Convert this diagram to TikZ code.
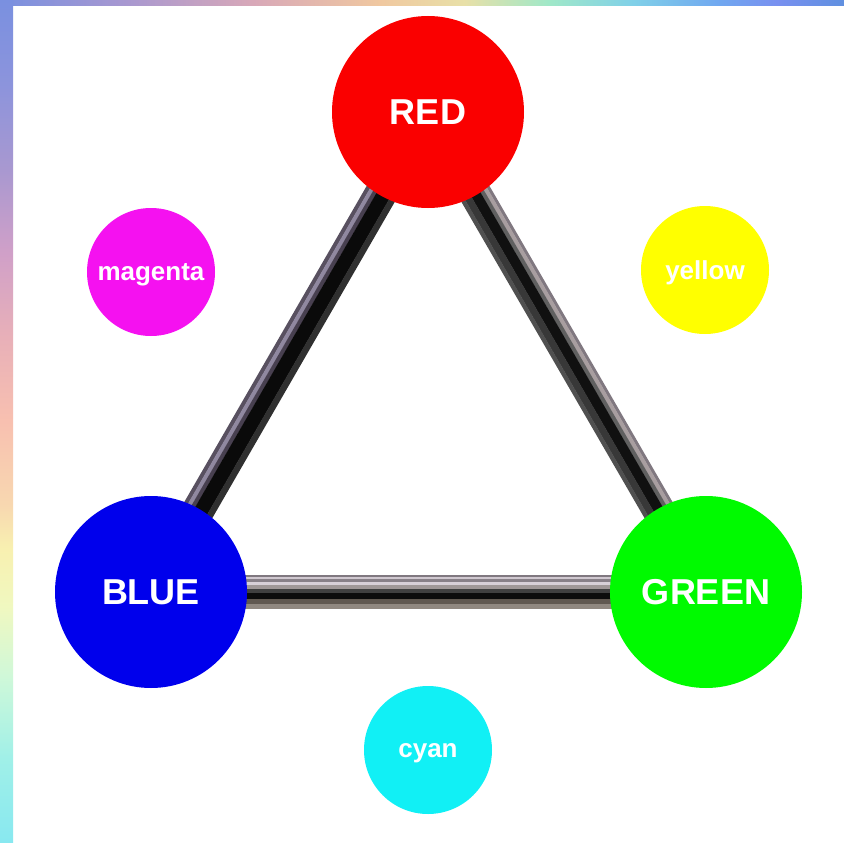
\documentclass[tikz,border=0pt]{standalone}
\usepackage{fontspec}
\setmainfont{Liberation Sans}
\usetikzlibrary{calc,backgrounds}
\pgfdeclareverticalshading{leftstrip}{100bp}{rgb(0bp)=(0.533,0.910,0.941); rgb(25bp)=(0.533,0.910,0.941); rgb(30bp)=(0.627,0.941,0.910); rgb(35bp)=(0.816,0.973,0.847); rgb(39bp)=(0.941,0.973,0.753); rgb(42.5bp)=(0.973,0.941,0.690); rgb(45bp)=(0.973,0.847,0.690); rgb(50bp)=(0.973,0.753,0.690); rgb(55bp)=(0.910,0.690,0.722); rgb(60bp)=(0.816,0.627,0.784); rgb(65bp)=(0.659,0.596,0.816); rgb(70bp)=(0.549,0.580,0.863); rgb(75bp)=(0.478,0.565,0.878); rgb(100bp)=(0.478,0.565,0.878)}
\pgfdeclarehorizontalshading{topstrip}{100bp}{rgb(0bp)=(0.471,0.565,0.878); rgb(25bp)=(0.471,0.565,0.878); rgb(32.5bp)=(0.659,0.596,0.816); rgb(40bp)=(0.847,0.659,0.722); rgb(47.5bp)=(0.941,0.784,0.627); rgb(52.5bp)=(0.910,0.878,0.659); rgb(57.5bp)=(0.627,0.910,0.784); rgb(62.5bp)=(0.502,0.816,0.910); rgb(67.5bp)=(0.439,0.659,0.941); rgb(71bp)=(0.471,0.565,0.941); rgb(75bp)=(0.376,0.565,0.878); rgb(100bp)=(0.376,0.565,0.878)}
\definecolor{cRed}{HTML}{FA0000}
\definecolor{cBlue}{HTML}{0000EC}
\definecolor{cGreen}{HTML}{00FA00}
\definecolor{cMag}{HTML}{F511F0}
\definecolor{cYel}{HTML}{FFFF00}
\definecolor{cCyan}{HTML}{11F0F5}
% #1,#2 nodes; #3 offset of stripe centre; #4 stripe width; #5 HTML colour
\newcommand\mystripe[5]{\definecolor{stripecol}{HTML}{#5}%
  \draw[line width=#4,draw=stripecol] ($(#1)!#3!90:(#2)$) -- ($(#2)!#3!-90:(#1)$);}
\begin{document}
\begin{tikzpicture}[x=1pt,y=-1pt]
\tikzset{
  bigball/.style={circle, minimum size=192pt, inner sep=0pt, text=white,
    font=\bfseries\fontsize{36}{36}\selectfont},
  smallball/.style={circle, minimum size=128pt, inner sep=0pt, text=white, text depth=0pt,
    font=\bfseries\fontsize{26}{26}\selectfont}
}
\useasboundingbox (0,0) rectangle (844,843);
\node[bigball, fill=cRed] (R) at (428,112) {RED};
\node[bigball, fill=cBlue] (B) at (151,592) {BLUE};
\node[bigball, fill=cGreen] (G) at (706,592) {GREEN};
\node[smallball, fill=cMag] (M) at (151,272) {magenta};
\node[smallball, fill=cYel] (Y) at (705,270) {yellow};
\node[smallball, fill=cCyan] (C) at (428,750) {cyan};
\begin{pgfonlayer}{background}
\fill[white] (0,0) rectangle (844,843);
\shade[shading=topstrip] (0,0) rectangle (844,6);
\shade[shading=leftstrip] (0,0) rectangle (13,843);
% BLUE -- RED
\mystripe{B}{R}{14pt}{4.3pt}{585060}
\mystripe{B}{R}{10pt}{4.3pt}{9088A0}
\mystripe{B}{R}{6pt}{4.3pt}{484050}
\mystripe{B}{R}{-3pt}{14.3pt}{0A0A0A}
\mystripe{B}{R}{-13pt}{6.3pt}{303030}
% RED -- GREEN
\mystripe{R}{G}{14.5pt}{3.3pt}{807880}
\mystripe{R}{G}{11pt}{4.3pt}{A89EA0}
\mystripe{R}{G}{7pt}{4.3pt}{606060}
\mystripe{R}{G}{0pt}{10.3pt}{101010}
\mystripe{R}{G}{-8.5pt}{7.3pt}{383838}
\mystripe{R}{G}{-14pt}{4.3pt}{505050}
% BLUE -- GREEN
\mystripe{B}{G}{16.15pt}{2pt}{807880}
\mystripe{B}{G}{14.15pt}{2.6pt}{D0C8D0}
\mystripe{B}{G}{11.65pt}{3pt}{888088}
\mystripe{B}{G}{8.65pt}{3.6pt}{D8D0D8}
\mystripe{B}{G}{5pt}{4.3pt}{A09898}
\mystripe{B}{G}{1pt}{4.3pt}{404040}
\mystripe{B}{G}{-4pt}{6.3pt}{0C0C0C}
\mystripe{B}{G}{-9.5pt}{5.3pt}{605850}
\mystripe{B}{G}{-14.5pt}{5.3pt}{908880}
\end{pgfonlayer}
\end{tikzpicture}
\end{document}
